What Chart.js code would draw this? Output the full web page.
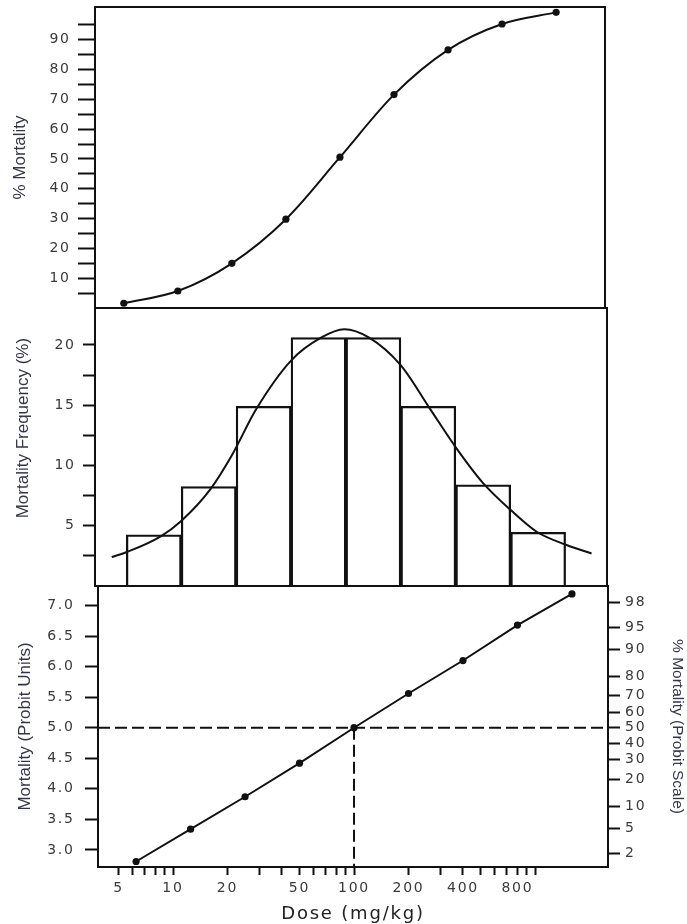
<!DOCTYPE html>
<html><head><meta charset="utf-8">
<script src="https://cdn.jsdelivr.net/npm/chart.js@4.4.0/dist/chart.umd.min.js"></script>
<style>
html,body{margin:0;padding:0;background:#fff;}
#wrap{position:relative;width:687px;height:924px;background:#fff;}
canvas{position:absolute;left:0;top:0;}
</style></head><body>
<div id="wrap">
<canvas id="c1" width="687" height="924"></canvas>
<canvas id="c2" width="687" height="924"></canvas>
<canvas id="c3" width="687" height="924"></canvas>
</div>
<script>
// ---------- data ----------
const doses = [6.25, 12.5, 25, 50, 100, 200, 400, 800, 1600];               // mg/kg
const cumulativeMortality = [1.6, 5.7, 15.0, 29.8, 50.6, 71.6, 86.6, 95.3, 99.2]; // %
const binFrequency = [4.25, 8.25, 14.9, 20.6, 20.6, 14.9, 8.4, 4.45];        // % per dose interval
const curveDoses = [5.2, 6.25, 9.6, 12.5, 18, 24, 32, 50, 73, 98, 134, 200, 286, 400, 560, 800, 1110, 1620, 2220];
const curveFrequency = [2.4, 2.8, 4.1, 5.4, 8.0, 11.0, 14.6, 18.7, 20.6, 21.3, 20.6, 18.3, 14.8, 11.5, 8.6, 6.3, 4.5, 3.4, 2.7];
const probitMortality = [2.81, 3.34, 3.87, 4.42, 5.0, 5.56, 6.10, 6.68, 7.19];
const ld50Dose = 100;
const ld50Probit = 5.0;

// ---------- tick values / labels ----------
const pctTicks = [5,10,15,20,25,30,35,40,45,50,55,60,65,70,75,80,85,90,95];
const pctLabels = [10,20,30,40,50,60,70,80,90];
const freqTicks = [2.5,5,7.5,10,12.5,15,17.5,20];
const freqLabels = [5,10,15,20];
const probitTicks = [3.0,3.5,4.0,4.5,5.0,5.5,6.0,6.5,7.0];
const probitScalePct = [2,5,10,20,30,40,50,60,70,80,90,95,98];
const doseTicks = [5,6,7,8,9,10,20,30,40,50,60,70,80,90,100,200,300,400,500,600,700,800,900,1000];
const doseLabels = [5,10,20,50,100,200,400,800];

// ---------- axis ranges ----------
const topDoseMin = 4.32, topDoseMax = 2995, topPctMin = 0, topPctMax = 101;
const midDoseMin = 4.21, midDoseMax = 2698, midFreqMin = 0, midFreqMax = 23.06;
const botDoseMin = 3.85, botDoseMax = 2531, botProbitMin = 2.72, botProbitMax = 7.32;

// inverse standard normal (for probit-scale tick positions)
function invNorm(p){
  const q = p < 0.5 ? p : 1 - p;
  const t = Math.sqrt(-2 * Math.log(q));
  const z = t - (2.515517 + 0.802853*t + 0.010328*t*t) / (1 + 1.432788*t + 0.189269*t*t + 0.001308*t*t*t);
  return p < 0.5 ? -z : z;
}

const INK = '#111';
const TICKCOL = '#3a3a3a';
const TITLECOL = '#35354a';
const SPACING = 1.8;
const tickFont = {family:'DejaVu Sans', size:14};
const titleFont = (s) => ({family:'Liberation Sans', size:s});

const framePlugin = {
  id:'frame',
  afterDraw(chart){
    const {ctx, chartArea:a} = chart;
    ctx.save();
    ctx.letterSpacing = '0px';
    ctx.strokeStyle = INK; ctx.lineWidth = 2;
    ctx.strokeRect(a.left, a.top, a.right - a.left, a.bottom - a.top);
    ctx.restore();
  }
};
// wide lettering for tick labels (drawn after the datasets)
const spacingPlugin = {
  id:'spacing',
  beforeDraw(chart){ chart.ctx.letterSpacing = '0px'; },
  afterDatasetsDraw(chart){ chart.ctx.letterSpacing = SPACING + 'px'; },
  afterDraw(chart){ chart.ctx.letterSpacing = '0px'; }
};

function noPad(s){ s.paddingTop = 0; s.paddingBottom = 0; }

function leftAxis(width, tickVals, labelVals, tickLen, pad, title, titleSize, titlePad, min, max, fmt){
  return {
    type:'linear', position:'left', min, max, bounds:'data',
    afterFit: s => { s.width = width; noPad(s); },
    afterBuildTicks: s => { s.ticks = tickVals.map(v => ({value:v})); },
    ticks:{autoSkip:false, padding:pad, color:TICKCOL, font:tickFont, z:1,
      callback: v => labelVals.includes(v) ? (fmt ? fmt(v) : String(v)) : ''},
    grid:{drawOnChartArea:false, drawTicks:true, tickLength:tickLen, tickWidth:2, tickColor:INK},
    border:{display:false},
    title:{display:true, text:title, color:TITLECOL, font:titleFont(titleSize), padding:{top:titlePad, bottom:0}}
  };
}

const common = {responsive:false, animation:false, events:[], plugins:{legend:{display:false}, tooltip:{enabled:false}}};

// ---------- top panel: cumulative % mortality ----------
new Chart(document.getElementById('c1'), {
  type:'line',
  data:{datasets:[{
    data: doses.map((d,i) => ({x:d, y:cumulativeMortality[i]})),
    borderColor:INK, borderWidth:2, pointRadius:3.6, pointBackgroundColor:INK, pointBorderWidth:0,
    cubicInterpolationMode:'monotone', fill:false
  }]},
  options:{...common,
    layout:{padding:{top:7, bottom:616, left:0, right:82}},
    scales:{
      x:{type:'logarithmic', min:topDoseMin, max:topDoseMax, bounds:'data', display:false},
      y:leftAxis(95, pctTicks, pctLabels, 17, 9 - SPACING, '% Mortality', 17, 10, topPctMin, topPctMax)
    }
  },
  plugins:[framePlugin, spacingPlugin]
});

// ---------- middle panel: frequency histogram ----------
const binCenters = binFrequency.map((_, i) => Math.sqrt(doses[i] * doses[i+1]));
new Chart(document.getElementById('c2'), {
  type:'bar',
  data:{datasets:[
    {type:'line', data: curveDoses.map((d,i) => ({x:d, y:curveFrequency[i]})),
      borderColor:INK, borderWidth:2, pointRadius:0, cubicInterpolationMode:'monotone', fill:false},
    {type:'bar', data: binCenters.map((c,i) => ({x:c, y:binFrequency[i]})),
      backgroundColor:'rgba(255,255,255,0)', borderColor:INK, borderWidth:1.6,
      barPercentage:1, categoryPercentage:1}
  ]},
  options:{...common,
    layout:{padding:{top:308, bottom:338, left:0, right:80}},
    scales:{
      x:{type:'logarithmic', min:midDoseMin, max:midDoseMax, bounds:'data', offset:false, display:false,
         afterBuildTicks: s => { s.ticks = binCenters.map(v => ({value:v})); }},
      y:leftAxis(95, freqTicks, freqLabels, 12, 9 - SPACING, '\u00a0\u00a0\u00a0\u00a0\u00a0\u00a0\u00a0\u00a0Mortality Frequency (%)', 17, 13, midFreqMin, midFreqMax)
    }
  },
  plugins:[framePlugin, spacingPlugin]
});

// ---------- bottom panel: probit plot ----------
new Chart(document.getElementById('c3'), {
  type:'line',
  data:{datasets:[
    {data: doses.map((d,i) => ({x:d, y:probitMortality[i]})),
      borderColor:INK, borderWidth:2, pointRadius:3.6, pointBackgroundColor:INK, pointBorderWidth:0, tension:0},
    {data:[{x:botDoseMin, y:ld50Probit},{x:botDoseMax, y:ld50Probit}],
      borderColor:INK, borderWidth:2, borderDash:[12,5], pointRadius:0, tension:0},
    {data:[{x:ld50Dose, y:ld50Probit},{x:ld50Dose, y:botProbitMin}],
      borderColor:INK, borderWidth:2, borderDash:[12,5], pointRadius:0, tension:0}
  ]},
  options:{...common,
    layout:{padding:{top:586, bottom:0, left:0, right:0}},
    scales:{
      x:{type:'logarithmic', position:'bottom', min:botDoseMin, max:botDoseMax, bounds:'data',
        afterFit: s => { s.height = 57; s.paddingLeft = 0; s.paddingRight = 0; },
        afterBuildTicks: s => { s.ticks = doseTicks.map(v => ({value:v})); },
        ticks:{autoSkip:false, maxRotation:0, padding:5, color:TICKCOL, font:tickFont, z:1,
          callback: v => doseLabels.includes(v) ? String(v) : ''},
        grid:{drawOnChartArea:false, drawTicks:true, tickLength:8, tickWidth:2, tickColor:INK, z:1},
        border:{display:false},
        title:{display:true, text:'Dose (mg/kg)', color:'#222', font:{family:'DejaVu Sans', size:18, lineHeight:'20px'}, padding:{top:0,bottom:0}}
      },
      y:leftAxis(98, probitTicks, probitTicks, 13, 12 - SPACING, 'Mortality (Probit Units)', 17, 15, botProbitMin, botProbitMax, v => v.toFixed(1)),
      y2:{type:'linear', position:'right', min:botProbitMin, max:botProbitMax, bounds:'data',
        afterFit: s => { s.width = 79; noPad(s); },
        afterBuildTicks: s => { s.ticks = probitScalePct.map(p => ({value: 5 + invNorm(p/100)})); },
        ticks:{autoSkip:false, padding:5, color:TICKCOL, font:tickFont, z:1,
          callback: (v, i) => String(probitScalePct[i])},
        grid:{drawOnChartArea:false, drawTicks:true, tickLength:12, tickWidth:2, tickColor:INK},
        border:{display:false},
        title:{display:true, text:'% Mortality (Probit Scale)', color:TITLECOL, font:{family:'Liberation Sans', size:15.5, lineHeight:'16px'}, padding:{top:2,bottom:0}}
      }
    }
  },
  plugins:[framePlugin, spacingPlugin]
});
</script>
</body></html>
